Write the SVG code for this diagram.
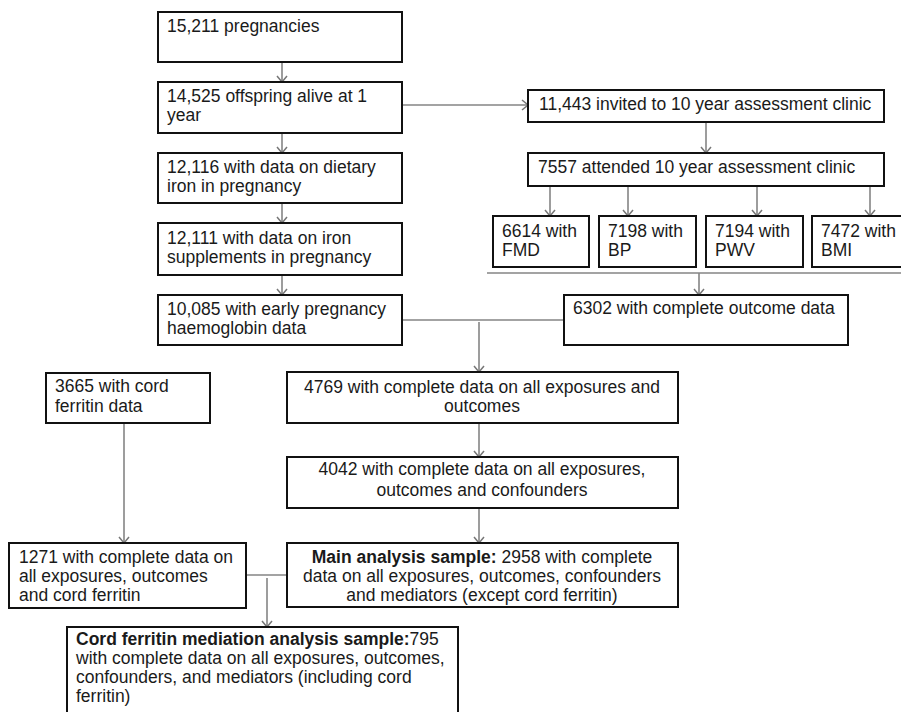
<svg xmlns="http://www.w3.org/2000/svg" width="901" height="712" viewBox="0 0 901 712">
<defs>
<style>
.box{fill:#fff;stroke:#111;stroke-width:2}
.t{font-family:"Liberation Sans",Arial,sans-serif;font-size:17.5px;fill:#1a1a1a}
.c{text-anchor:middle}
.b{font-weight:bold}
.ln{fill:none;stroke:#858585;stroke-width:1.6}
</style>
<marker id="ah" viewBox="0 0 12 12" refX="11" refY="6" markerWidth="12" markerHeight="12" markerUnits="userSpaceOnUse" orient="auto">
<path d="M5,1 L11,6 L5,11" fill="none" stroke="#777" stroke-width="1.5"/>
</marker>
</defs>
<rect width="901" height="712" fill="#fff"/>

<g id="connectors">
<line class="ln" x1="282" y1="62" x2="282" y2="82" marker-end="url(#ah)"/>
<line class="ln" x1="282" y1="133" x2="282" y2="153" marker-end="url(#ah)"/>
<line class="ln" x1="282" y1="203" x2="282" y2="223" marker-end="url(#ah)"/>
<line class="ln" x1="282" y1="275" x2="282" y2="295" marker-end="url(#ah)"/>
<line class="ln" x1="402" y1="105" x2="528" y2="105" marker-end="url(#ah)"/>
<line class="ln" x1="706" y1="122" x2="706" y2="153" marker-end="url(#ah)"/>
<line class="ln" x1="550" y1="186" x2="550" y2="216" marker-end="url(#ah)"/>
<line class="ln" x1="628" y1="186" x2="628" y2="216" marker-end="url(#ah)"/>
<line class="ln" x1="757" y1="186" x2="757" y2="216" marker-end="url(#ah)"/>
<line class="ln" x1="870" y1="186" x2="870" y2="216" marker-end="url(#ah)"/>
<line class="ln" x1="487" y1="273" x2="901" y2="273"/>
<line class="ln" x1="699" y1="273" x2="699" y2="295" marker-end="url(#ah)"/>
<line class="ln" x1="402" y1="320" x2="564" y2="320"/>
<line class="ln" x1="479" y1="322" x2="479" y2="372" marker-end="url(#ah)"/>
<line class="ln" x1="479" y1="423" x2="479" y2="457" marker-end="url(#ah)"/>
<line class="ln" x1="479" y1="508" x2="479" y2="543" marker-end="url(#ah)"/>
<line class="ln" x1="124" y1="423" x2="124" y2="543" marker-end="url(#ah)"/>
<line class="ln" x1="246" y1="575" x2="287" y2="575"/>
<line class="ln" x1="267" y1="578" x2="267" y2="627" marker-end="url(#ah)"/>
</g>

<g id="n1"><rect class="box" x="158" y="12" width="244" height="50"/>
<text class="t" x="167" y="32">15,211 pregnancies</text></g>

<g id="n2"><rect class="box" x="158" y="82" width="244" height="51"/>
<text class="t" x="167" y="102">14,525 offspring alive at 1</text>
<text class="t" x="167" y="121">year</text></g>

<g id="n3"><rect class="box" x="158" y="153" width="244" height="50"/>
<text class="t" x="167" y="173">12,116 with data on dietary</text>
<text class="t" x="167" y="192">iron in pregnancy</text></g>

<g id="n4"><rect class="box" x="158" y="223" width="244" height="52"/>
<text class="t" x="167" y="244">12,111 with data on iron</text>
<text class="t" x="167" y="263">supplements in pregnancy</text></g>

<g id="n5"><rect class="box" x="158" y="295" width="244" height="50"/>
<text class="t" x="167" y="315">10,085 with early pregnancy</text>
<text class="t" x="167" y="334">haemoglobin data</text></g>

<g id="n6"><rect class="box" x="528" y="90" width="356" height="32"/>
<text class="t" x="539" y="110">11,443 invited to 10 year assessment clinic</text></g>

<g id="n7"><rect class="box" x="528" y="153" width="356" height="33"/>
<text class="t" x="538" y="173">7557 attended 10 year assessment clinic</text></g>

<g id="n8"><rect class="box" x="493" y="216" width="96" height="51"/>
<text class="t" x="502" y="237">6614 with</text>
<text class="t" x="502" y="256">FMD</text></g>

<g id="n9"><rect class="box" x="599" y="216" width="97" height="51"/>
<text class="t" x="608" y="237">7198 with</text>
<text class="t" x="608" y="256">BP</text></g>

<g id="n10"><rect class="box" x="706" y="216" width="97" height="51"/>
<text class="t" x="715" y="237">7194 with</text>
<text class="t" x="715" y="256">PWV</text></g>

<g id="n11"><rect class="box" x="812" y="216" width="97" height="51"/>
<text class="t" x="821" y="237">7472 with</text>
<text class="t" x="821" y="256">BMI</text></g>

<g id="n12"><rect class="box" x="564" y="295" width="284" height="50"/>
<text class="t" x="573" y="314">6302 with complete outcome data</text></g>

<g id="n13"><rect class="box" x="46" y="373" width="164" height="50"/>
<text class="t" x="55" y="392">3665 with cord</text>
<text class="t" x="55" y="412">ferritin data</text></g>

<g id="n14"><rect class="box" x="287" y="372" width="391" height="51"/>
<text class="t c" x="482" y="393">4769 with complete data on all exposures and</text>
<text class="t c" x="482" y="412">outcomes</text></g>

<g id="n15"><rect class="box" x="287" y="457" width="391" height="51"/>
<text class="t c" x="482" y="475">4042 with complete data on all exposures,</text>
<text class="t c" x="482" y="496">outcomes and confounders</text></g>

<g id="n16"><rect class="box" x="9" y="543" width="237" height="65"/>
<text class="t" x="19" y="563">1271 with complete data on</text>
<text class="t" x="19" y="582">all exposures, outcomes</text>
<text class="t" x="19" y="601">and cord ferritin</text></g>

<g id="n17"><rect class="box" x="287" y="543" width="391" height="64"/>
<text class="t c" x="482" y="563"><tspan class="b">Main analysis sample:</tspan> 2958 with complete</text>
<text class="t c" x="482" y="582">data on all exposures, outcomes, confounders</text>
<text class="t c" x="482" y="601">and mediators (except cord ferritin)</text></g>

<g id="n18"><rect class="box" x="67" y="627" width="391" height="87"/>
<text class="t" x="76" y="645"><tspan class="b">Cord ferritin mediation analysis sample:</tspan>795</text>
<text class="t" x="76" y="664">with complete data on all exposures, outcomes,</text>
<text class="t" x="76" y="683">confounders, and mediators (including cord</text>
<text class="t" x="76" y="702">ferritin)</text></g>
</svg>
